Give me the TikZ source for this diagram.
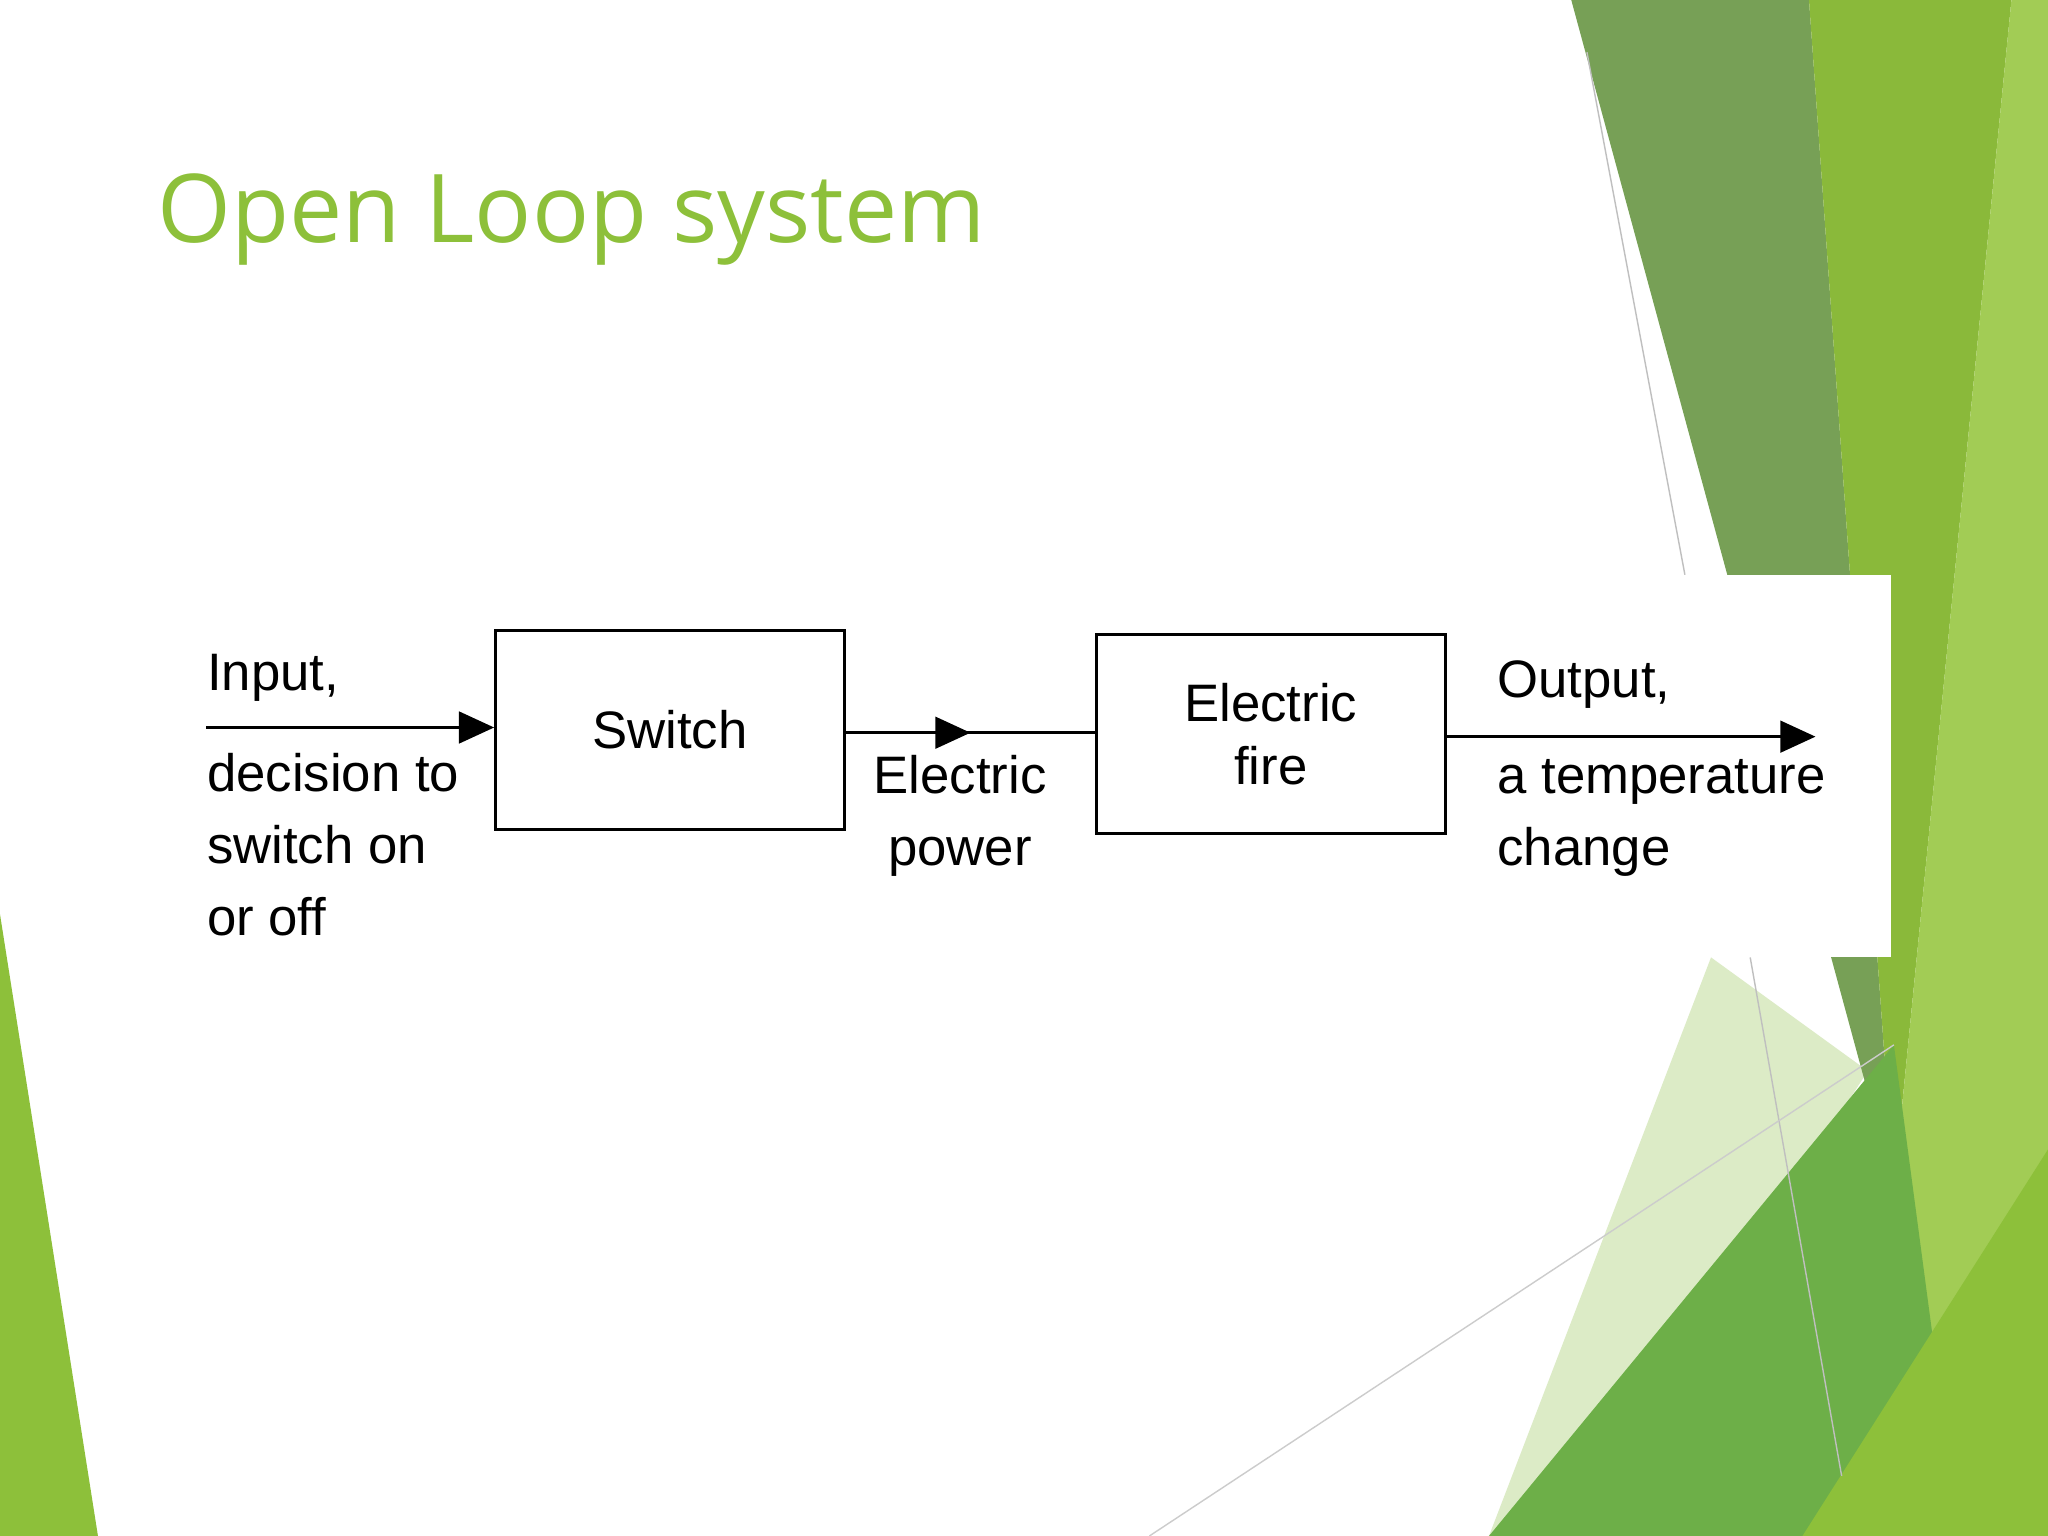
\documentclass[tikz,border=0pt]{standalone}
\usepackage{fontspec}
\setmainfont{Liberation Sans}
\newfontfamily\titlefont{Open Sans}
\usetikzlibrary{arrows.meta,decorations.markings}
\definecolor{ttlgreen}{HTML}{8DC03A}
\definecolor{darkband}{HTML}{77A056}
\definecolor{brightband}{HTML}{8AB93A}
\definecolor{lightband}{HTML}{A2CC55}
\definecolor{midgreen}{HTML}{6DAF48}
\definecolor{palegreen}{HTML}{DCEBC6}
\tikzset{
  blk/.style={draw,thick,minimum width=3.49cm,minimum height=1.99cm,font=\fontsize{15}{18}\selectfont},
  lbl/.style={align=left,anchor=north west,font=\fontsize{15}{20.5}\selectfont,inner sep=0pt},
  sig/.style={thick,-{Triangle[length=10pt,width=9pt]}},
  midsig/.style={thick,decoration={markings,mark=at position 0.5 with {\arrow{Triangle[length=10pt,width=9pt]}}},postaction=decorate}
}
\begin{document}
\begin{tikzpicture}[x=0.01306cm,y=-0.01306cm]
\useasboundingbox (0,0) rectangle (1568,1176);
% background
\fill[white] (0,0) rectangle (1568,1176);
\fill[palegreen] (1310,733) -- (1430,820) -- (1200,1176) -- (1140,1176) -- cycle;
\fill[darkband] (1203,0) -- (1385,0) -- (1450,910) -- cycle;
\fill[brightband] (1385,0) -- (1540,0) -- (1450,910) -- cycle;
\fill[lightband] (1540,0) -- (1568,0) -- (1568,1176) -- (1430,1176) -- (1450,910) -- cycle;
\fill[midgreen] (1140,1176) -- (1450,800) -- (1500,1176) -- cycle;
\fill[ttlgreen] (1380,1176) -- (1568,880) -- (1568,1176) -- cycle;
\fill[ttlgreen] (0,700) -- (75,1176) -- (0,1176) -- cycle;
\draw[gray!50] (1215,40) -- (1290,440);
\draw[gray!50] (1340,733) -- (1410,1130);
\draw[gray!40] (880,1176) -- (1450,800);
% title
\node[anchor=west,text=ttlgreen,font=\titlefont\fontsize{27}{32}\selectfont,inner sep=0pt] (title) at (120,168) {Open Loop system};
% diagram panel
\fill[white] (120,440) rectangle (1448,733);
\node[blk] (switch) at (513,559) {Switch};
\node[blk,align=center] (fire) at (973,562) {Electric\\fire};
\coordinate (in) at (158,557);
\coordinate (out) at (1390,564);
\draw[sig] (in) -- (in -| switch.west);
\draw[midsig] (switch.east |- 0,561) -- (fire.west |- 0,561);
\draw[sig] (fire.east |- out) -- (out);
\node[lbl] (inlbl) at (158,500) {Input,};
\node[lbl] (inlbl2) at (158,576) {decision to\\switch on\\or off};
\node[lbl,align=center,anchor=north] (power) at (735,578) {Electric\\power};
\node[lbl] (outlbl) at (1146,505) {Output,};
\node[lbl] (outlbl2) at (1146,581) {a temperature\\change};
\end{tikzpicture}
\end{document}
